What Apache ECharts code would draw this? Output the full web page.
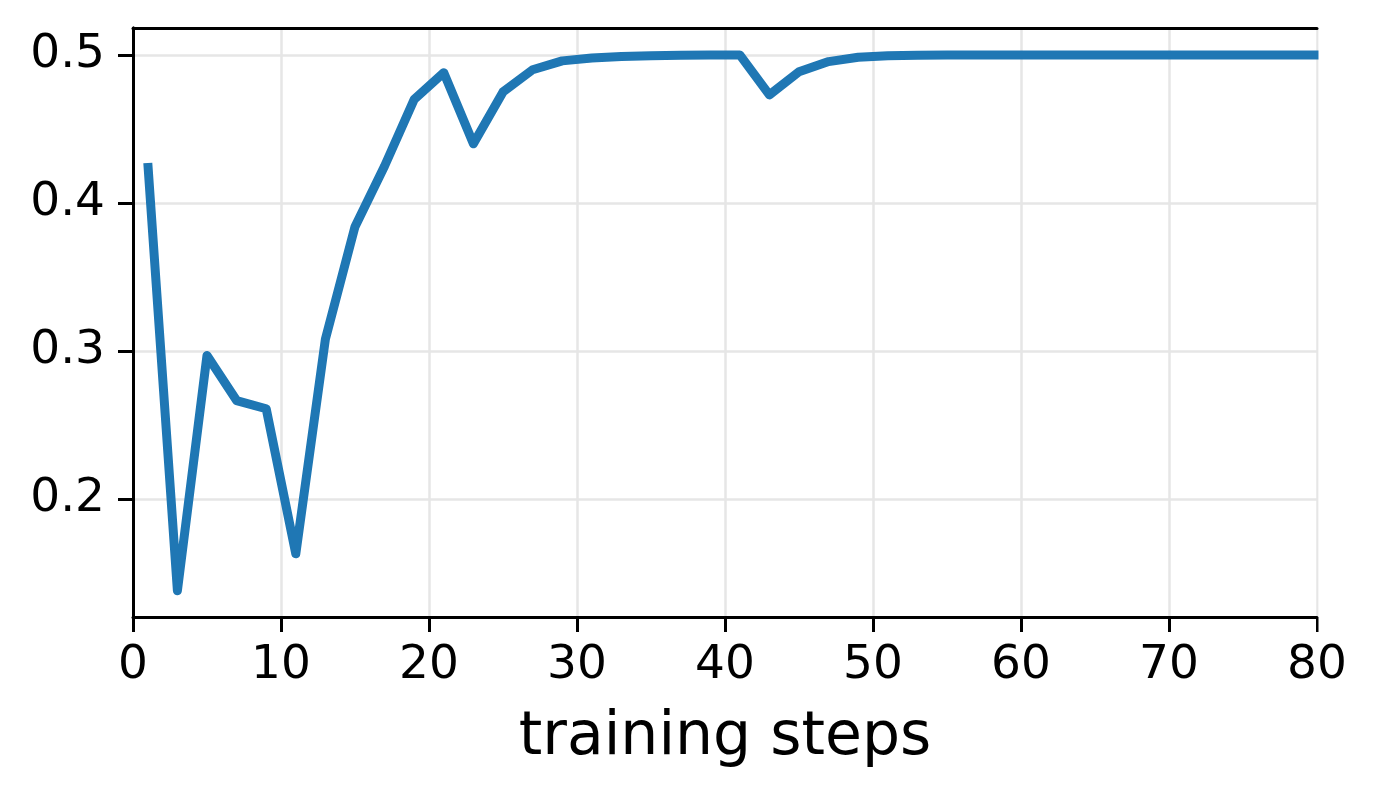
<!DOCTYPE html>
<html>
<head>
<meta charset="utf-8">
<script src="https://cdn.jsdelivr.net/npm/echarts@6/dist/echarts.min.js"></script>
<style>
html,body{margin:0;padding:0;background:#fff;}
#chart{width:1378px;height:796px;}
</style>
</head>
<body>
<div id="chart"></div>
<script>
const steps = [1,3,5,7,9,11,13,15,17,19,21,23,25,27,29,31,33,35,37,39,41,43,45,47,49,51,53,55,57,59,61,63,65,67,69,71,73,75,77,79,81];
const values = [0.427,0.138,0.297,0.2665,0.261,0.163,0.308,0.384,0.425,0.470,0.488,0.440,0.475,0.490,0.496,0.498,0.499,0.4995,0.4998,0.4999,0.5,0.473,0.4887,0.4955,0.4984,0.4994,0.4998,0.4999,0.5,0.5,0.5,0.5,0.5,0.5,0.5,0.5,0.5,0.5,0.5,0.5,0.5];
const yTicks = [0.2,0.3,0.4,0.5];
const xLabel = 'training steps';

const font = 'DejaVu Sans';
const chart = echarts.init(document.getElementById('chart'), null, {renderer:'canvas'});
const frame = {show:true, lineStyle:{color:'#000', width:3}};
chart.setOption({
  animation:false,
  backgroundColor:'#fff',
  grid:{left:133, right:61, top:28, bottom:179, containLabel:false},
  graphic:[{
    type:'rect', z:20, silent:true,
    shape:{x:1318.5, y:0, width:40, height:640},
    style:{fill:'#fff'}
  }],
  xAxis:[{
    type:'value', min:0, max:80, interval:10, position:'bottom',
    name:xLabel, nameLocation:'middle', nameGap:91,
    nameTextStyle:{fontFamily:font, fontSize:60, color:'#000'},
    axisLine:{show:true, onZero:false, lineStyle:{color:'#000', width:3}},
    axisTick:{show:true, inside:false, length:15, lineStyle:{color:'#000', width:3}},
    axisLabel:{fontFamily:font, fontSize:47, color:'#000', margin:25},
    splitLine:{show:true, lineStyle:{color:'#e6e6e6', width:2.5}}
  },{
    type:'value', min:0, max:80, position:'top', z:30,
    axisLine:frame, axisTick:{show:false}, axisLabel:{show:false}, splitLine:{show:false}
  }],
  yAxis:[{
    type:'value', min:0.1203, max:0.5182, splitNumber:5, position:'left',
    axisLine:{show:true, onZero:false, lineStyle:{color:'#000', width:3}},
    axisTick:{show:true, inside:false, length:15, customValues:yTicks, lineStyle:{color:'#000', width:3}},
    axisLabel:{fontFamily:font, fontSize:47, color:'#000', margin:28, customValues:yTicks,
      formatter:function(v){return (Math.round(v*10)/10).toFixed(1);}},
    splitLine:{show:true, lineStyle:{color:'#e6e6e6', width:2.5}}
  },{
    type:'value', min:0.1203, max:0.5182, position:'right', z:30,
    axisLine:frame, axisTick:{show:false}, axisLabel:{show:false}, splitLine:{show:false}
  }],
  series:[{
    type:'line',
    xAxisIndex:0, yAxisIndex:0,
    data: steps.map((s,i)=>[s, values[i]]),
    showSymbol:false, symbol:'none',
    clip:true,
    lineStyle:{color:'#1f77b4', width:9, cap:'butt', join:'round'},
    z:3
  }]
});
</script>
</body>
</html>
